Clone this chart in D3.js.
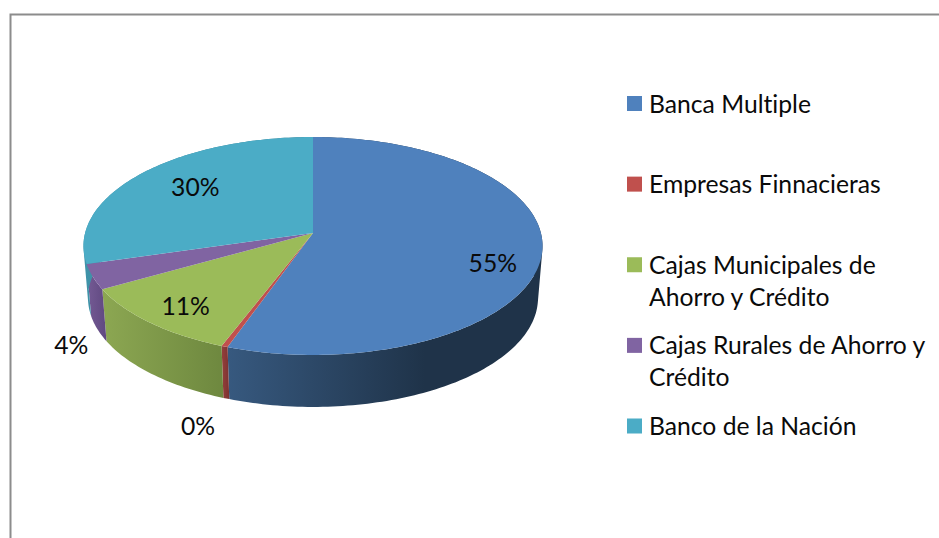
<!DOCTYPE html>
<html><head><meta charset="utf-8">
<script src="https://cdn.jsdelivr.net/npm/d3@7"></script>
<style>html,body{margin:0;padding:0;background:#fff}svg{display:block}text{font-family:Lato,Carlito,sans-serif;font-size:24.7px;fill:#0a0a0a;font-variant-ligatures:none}</style>
</head><body><svg id="c" width="939" height="538"></svg>
<script>
const categories = ["Banca Multiple","Empresas Finnacieras","Cajas Municipales de|Ahorro y Crédito","Cajas Rurales de Ahorro y|Crédito","Banco de la Nación"];
const values = [55.4,0.4,11,3.7,29.5];
const topColors = ["#4f81bd","#c0504d","#9bbb59","#8064a2","#4bacc6"];
const wallLight = ["#37597f","#943f3c","#8ca752","#755b95","#3f93a9"];
const wallDark  = ["#1f3349","#7c3230","#6e883f","#5f4880","#35788a"];
const labelNudge = [[1,17],[-46,105],[0,4],[-70,79],[15,2]];

const svg = d3.select("#c");
const W = 939, H = 538;
// perspective ellipse of the pie
const top_ = {cx:313,cy:233,a:227.9,b:107.4,k:0.119};
const bot_ = {cx:313,cy:285,a:223.4,b:107.4,k:0.119};
const project = (g,t,f=1)=>{
  const s=Math.sin(t),c=Math.cos(t),d=1+g.k*c;
  return [g.cx+f*g.a*s/d, g.cy-f*g.b*c/d];
};
const arcs = d3.pie().sort(null).value(d=>d)(values);
const rim = (g,a0,a1)=>{
  const n=Math.max(2,Math.ceil((a1-a0)/0.02));
  return d3.range(n+1).map(i=>project(g,a0+(a1-a0)*i/n));
};
const line = d3.line();
const defs = svg.append("defs");

// frame
svg.append("path").attr("d",`M10.5 ${H}V14.5H${W}`).attr("fill","none").attr("stroke","#8c8c8c").attr("stroke-width",2);

// walls: union of quads between the upper and lower rim, so the silhouette stays tangent
const walls = svg.append("g");
arcs.forEach((d,i)=>{
  const t=rim(top_,d.startAngle,d.endAngle), b=rim(bot_,d.startAngle,d.endAngle);
  const quads=d3.range(t.length-1).map(j=>{
    const q=[t[j],t[j+1],b[j+1],b[j]];
    return d3.polygonArea(q)<0?q.reverse():q;
  });
  const xs=d3.extent(t.concat(b),p=>p[0]);
  let x1=xs[0],x2=xs[1];
  if(i===0){x1=227;x2=425;}
  const g=defs.append("linearGradient").attr("id","w"+i).attr("gradientUnits","userSpaceOnUse")
    .attr("x1",x1).attr("x2",x2).attr("y1",0).attr("y2",0);
  g.append("stop").attr("offset",0).attr("stop-color",wallLight[i]);
  g.append("stop").attr("offset",1).attr("stop-color",wallDark[i]);
  walls.append("path").attr("d",quads.map(q=>line(q)+"Z").join("")).attr("fill",`url(#w${i})`).attr("fill-rule","nonzero");
});
// top faces
const faces = svg.append("g");
arcs.forEach((d,i)=>{
  const pts=[[top_.cx,top_.cy]].concat(rim(top_,d.startAngle,d.endAngle));
  faces.append("path").attr("d",line(pts)+"Z").attr("fill",topColors[i]);
});
// value labels
const fmt=v=>Math.round(v)+"%";
arcs.forEach((d,i)=>{
  const p=project(top_,(d.startAngle+d.endAngle)/2,0.78);
  svg.append("text").attr("x",p[0]+labelNudge[i][0]).attr("y",p[1]+labelNudge[i][1]+8)
    .attr("text-anchor","middle").text(fmt(values[i]));
});
// legend
const legendY = d3.scalePoint().domain(d3.range(categories.length)).range([103.5,426]);
const lineH=32;
categories.forEach((c,i)=>{
  const y=legendY(i);
  svg.append("rect").attr("x",627).attr("width",15).attr("height",15)
    .attr("y",y-7.5).attr("fill",topColors[i]);
  const t=svg.append("text").attr("x",649);
  c.split("|").forEach((l,j)=>{
    t.append("tspan").attr("x",649).attr("y",y+9+j*lineH).text(l);
  });
});
</script></body></html>
